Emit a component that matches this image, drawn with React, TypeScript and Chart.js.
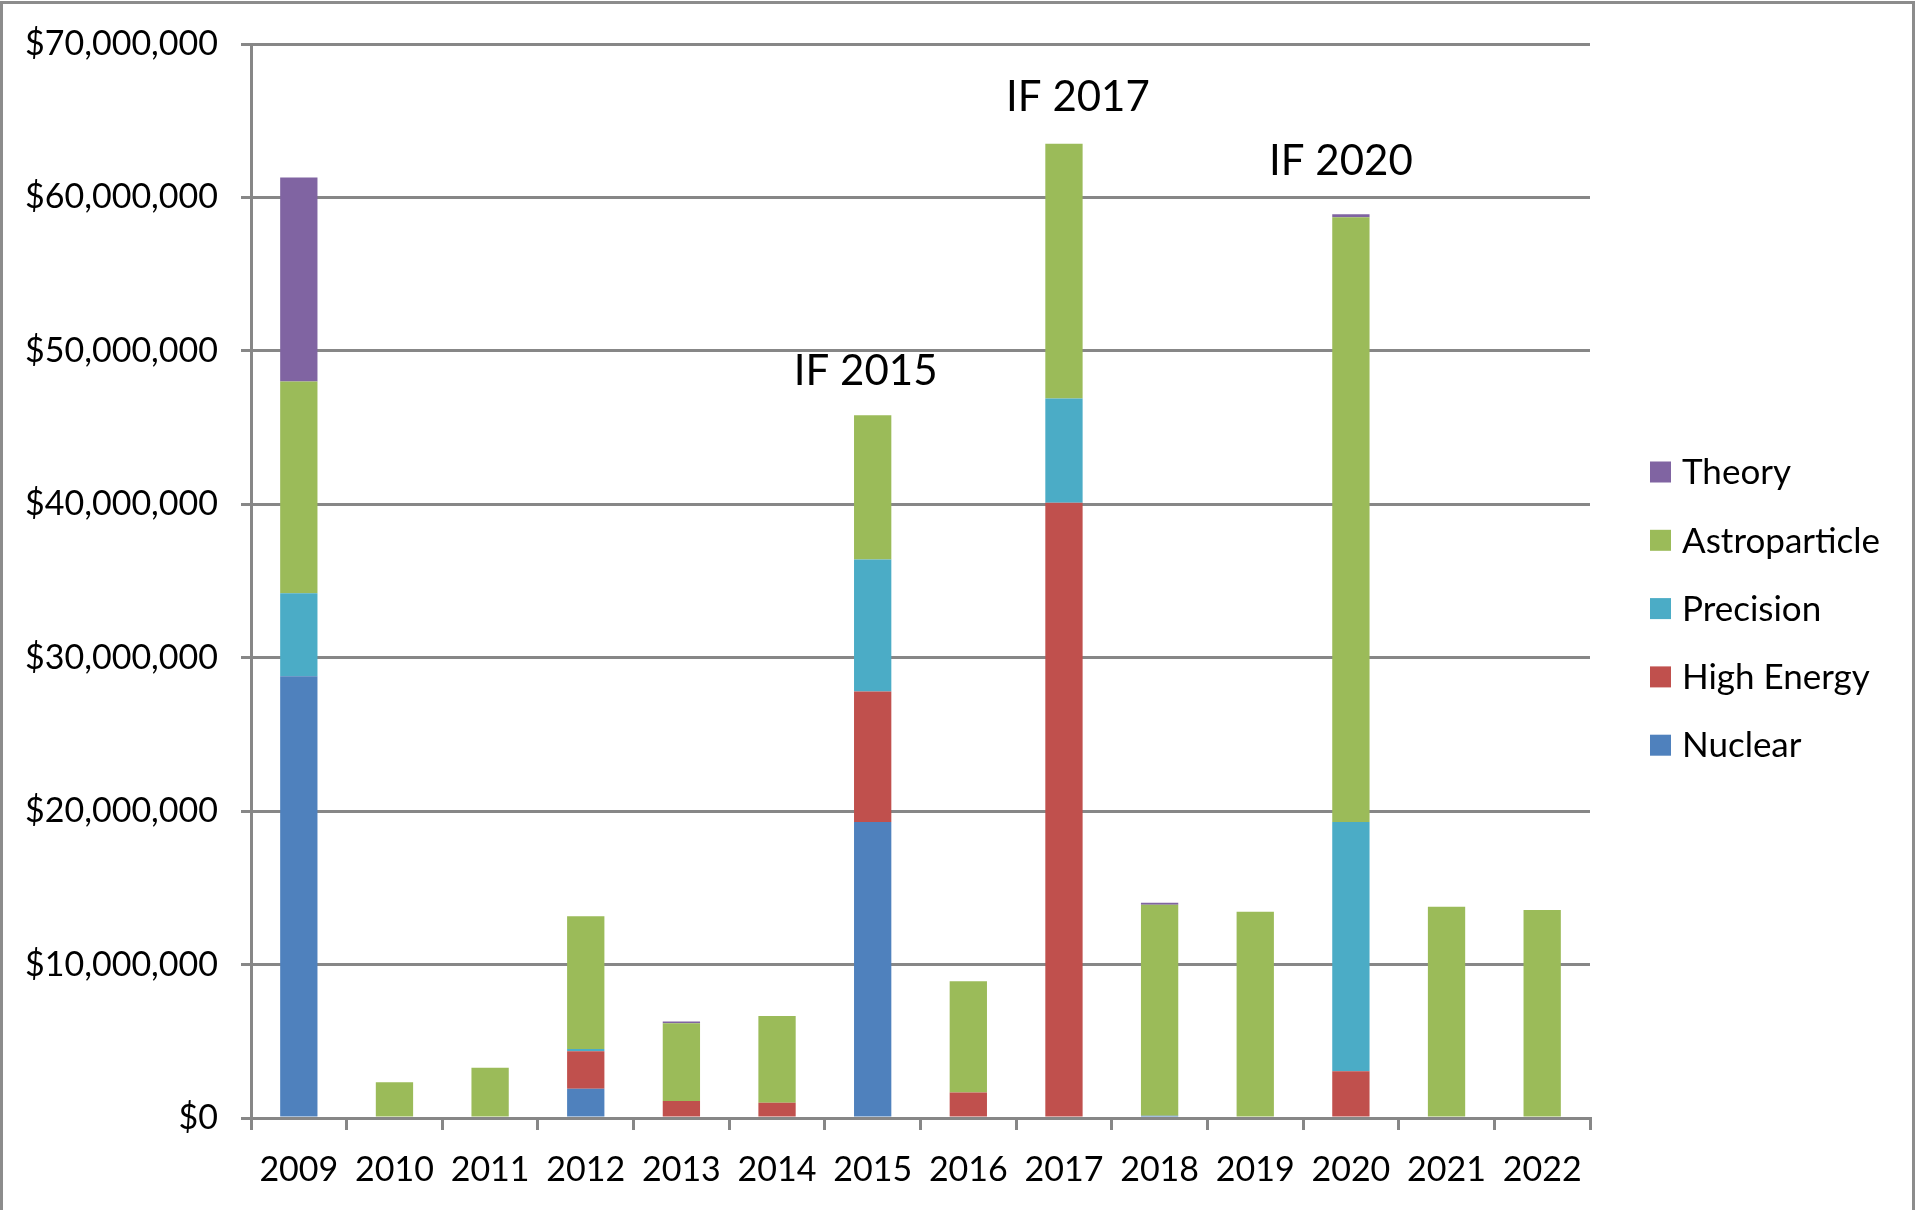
import React, { useEffect, useRef } from "react";
import { Chart, registerables } from "chart.js";

Chart.register(...registerables);

// ---------- data ----------
const years = ["2009", "2010", "2011", "2012", "2013", "2014", "2015", "2016", "2017", "2018", "2019", "2020", "2021", "2022"];

const nuclear = [28800000, 0, 0, 1900000, 0, 0, 19300000, 0, 0, 150000, 0, 0, 0, 0];
const highEnergy = [0, 0, 0, 2450000, 1100000, 1000000, 8500000, 1660000, 40100000, 0, 0, 3050000, 0, 0];
const precision = [5400000, 0, 0, 150000, 0, 0, 8600000, 0, 6800000, 0, 0, 16250000, 0, 0];
const astroparticle = [13800000, 2330000, 3270000, 8650000, 5070000, 5650000, 9400000, 7260000, 16600000, 13750000, 13440000, 39400000, 13770000, 13550000];
const theory = [13300000, 0, 0, 0, 120000, 0, 0, 0, 0, 130000, 0, 200000, 0, 0];

const seriesNames = ["Nuclear", "High Energy", "Precision", "Astroparticle", "Theory"];
const seriesValues = [nuclear, highEnergy, precision, astroparticle, theory];
const seriesColors = ["#4F81BD", "#C0504D", "#4BACC6", "#9BBB59", "#8064A2"];

const yMin = 0;
const yMax = 70000000;
const yStep = 10000000;

const annotationLabels = ["IF 2015", "IF 2017", "IF 2020"];
const annotationYears = ["2015", "2017", "2020"];

// ---------- layout / style ----------
const W = 1915;
const H = 1210;
const PLOT_LEFT = 251;
const PLOT_RIGHT = 1590;
const PLOT_TOP = 44;
const PLOT_BOTTOM = 1118;
const GRID = "#878787";
const FONT = "Lato, 'Open Sans', sans-serif";
const annotationDx = [-7, 14, -10];
const annotationGap = [44, 46, 53];

const formatDollar = (v: number) => "$" + Math.round(v).toLocaleString("en-US");

const legendPlugin = {
  id: "customLegend",
  afterDraw(chart: any) {
    const ctx = chart.ctx;
    ctx.save();
    const rowsTopDown = [4, 3, 2, 1, 0];
    const startY = 472;
    const step = 68.3;
    ctx.font = `35px ${FONT}`;
    ctx.textBaseline = "middle";
    ctx.textAlign = "left";
    rowsTopDown.forEach((si, i) => {
      const cy = startY + i * step;
      ctx.fillStyle = seriesColors[si];
      ctx.fillRect(1650, cy - 10.5, 21, 21);
      ctx.fillStyle = "#000";
      ctx.fillText(seriesNames[si], 1682, cy + 1);
    });
    ctx.restore();
  },
};

const annotationPlugin = {
  id: "ifLabels",
  afterDraw(chart: any) {
    const ctx = chart.ctx;
    const xs = chart.scales.x;
    const ys = chart.scales.y;
    ctx.save();
    ctx.font = `42px ${FONT}`;
    ctx.fillStyle = "#000";
    ctx.textAlign = "center";
    ctx.textBaseline = "middle";
    annotationYears.forEach((yr, i) => {
      const idx = years.indexOf(yr);
      let total = 0;
      seriesValues.forEach((s) => (total += s[idx]));
      const x = xs.getPixelForValue(idx) + annotationDx[i];
      const y = ys.getPixelForValue(total) - annotationGap[i];
      ctx.fillText(annotationLabels[i], x, y);
    });
    ctx.restore();
  },
};

const borderPlugin = {
  id: "outerBorder",
  afterDraw(chart: any) {
    const ctx = chart.ctx;
    ctx.save();
    ctx.strokeStyle = "#8c8c8c";
    ctx.lineWidth = 3;
    ctx.beginPath();
    ctx.moveTo(1.5, H);
    ctx.lineTo(1.5, 2.5);
    ctx.lineTo(1913.5, 2.5);
    ctx.lineTo(1913.5, H);
    ctx.stroke();
    ctx.restore();
  },
};

export default function App() {
  const canvasRef = useRef<HTMLCanvasElement | null>(null);

  useEffect(() => {
    if (!canvasRef.current) return;
    const chart = new Chart(canvasRef.current, {
      type: "bar",
      data: {
        labels: years,
        datasets: seriesNames.map((name, i) => ({
          label: name,
          data: seriesValues[i],
          backgroundColor: seriesColors[i],
          borderWidth: 0,
          barPercentage: 0.39,
          categoryPercentage: 1.0,
        })),
      },
      options: {
        animation: false,
        responsive: false,
        maintainAspectRatio: false,
        devicePixelRatio: 1,
        layout: { padding: { top: PLOT_TOP, right: W - PLOT_RIGHT, left: 0, bottom: 0 } },
        plugins: {
          legend: { display: false },
          tooltip: { enabled: false },
          title: { display: false },
        },
        scales: {
          x: {
            stacked: true,
            grid: {
              display: true,
              drawOnChartArea: false,
              drawTicks: true,
              tickLength: 12,
              color: GRID,
              lineWidth: 3,
              offset: true,
            },
            border: { display: true, color: GRID, width: 3 },
            ticks: {
              color: "#000",
              font: { family: FONT, size: 34 },
              padding: 20,
              maxRotation: 0,
              autoSkip: false,
            },
            afterFit(scale: any) {
              scale.height = H - PLOT_BOTTOM;
            },
          },
          y: {
            stacked: true,
            min: yMin,
            max: yMax,
            grid: {
              color: GRID,
              lineWidth: 3,
              drawTicks: true,
              tickLength: 10,
            },
            border: { display: true, color: GRID, width: 3 },
            ticks: {
              stepSize: yStep,
              color: "#000",
              font: { family: FONT, size: 34 },
              padding: 23,
              callback: (v: any) => formatDollar(Number(v)),
            },
            afterFit(scale: any) {
              scale.width = PLOT_LEFT;
            },
          },
        },
      },
      plugins: [legendPlugin, annotationPlugin, borderPlugin],
    });
    return () => chart.destroy();
  }, []);

  return (
    <div style={{ position: "absolute", left: 0, top: 0, width: W, height: H, background: "#fff" }}>
      <canvas ref={canvasRef} width={W} height={H} style={{ display: "block", width: W, height: H }} />
    </div>
  );
}
